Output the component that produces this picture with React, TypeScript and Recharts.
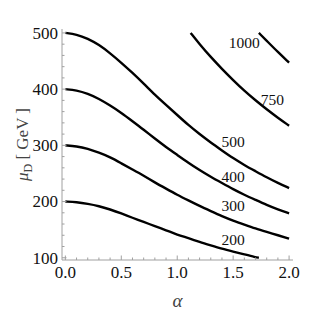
import React from "react";
import { LineChart, Line, XAxis, YAxis, ReferenceDot, Label } from "recharts";

// alpha grid shared by the full-width contours
const alphaGrid = [0, 0.1, 0.2, 0.3, 0.4, 0.5, 0.6, 0.7, 0.8, 0.9, 1.0, 1.1, 1.2, 1.3, 1.4, 1.5, 1.6, 1.7, 1.8, 1.9, 2.0];

// mu_D values (GeV)
const mu500 = [500, 497.5, 490, 479, 464, 447, 429, 410, 390, 372, 354, 336, 320, 305, 291, 277, 265, 254, 243, 233, 224];
const mu400 = [400, 398, 392, 383, 371, 358, 343, 328, 312, 297, 283, 269, 256, 244, 233, 222, 212, 203, 194, 186, 179];
const mu300 = [300, 298.5, 294, 287, 279, 268, 257, 246, 234, 223, 212, 202, 192, 183, 174, 166, 159, 152, 146, 140, 134];

// contours that are clipped by the plot range
const alpha200 = [0, 0.1, 0.2, 0.3, 0.4, 0.5, 0.6, 0.7, 0.8, 0.9, 1.0, 1.1, 1.2, 1.3, 1.4, 1.5, 1.6, 1.7, 1.73];
const mu200 = [200, 199, 196, 192, 186, 179, 171, 164, 156, 149, 141, 135, 128, 122, 116, 111, 106, 101, 100];
const alpha750 = [1.12, 1.2, 1.3, 1.4, 1.5, 1.6, 1.7, 1.8, 1.9, 2.0];
const mu750 = [500, 480, 457, 436, 416, 397, 380, 364, 349, 335];
const alpha1000 = [1.73, 1.8, 1.9, 2.0];
const mu1000 = [500, 486, 466, 447];

// contour labels
const labelText = ["1000", "750", "500", "400", "300", "200"];
const labelAlpha = [1.6, 1.85, 1.5, 1.5, 1.5, 1.5];
const labelMu = [482, 382, 306, 245, 192, 133];

// ticks
const xMajor = [0, 0.5, 1, 1.5, 2];
const xTicks = [0, 0.1, 0.2, 0.3, 0.4, 0.5, 0.6, 0.7, 0.8, 0.9, 1.0, 1.1, 1.2, 1.3, 1.4, 1.5, 1.6, 1.7, 1.8, 1.9, 2.0];
const yMajor = [100, 200, 300, 400, 500];
const yTicks = [100, 120, 140, 160, 180, 200, 220, 240, 260, 280, 300, 320, 340, 360, 380, 400, 420, 440, 460, 480, 500];

const toPoints = (xs: number[], ys: number[]) => xs.map((a, i) => ({ alpha: a, mu: ys[i] }));

const FONT = "Liberation Serif";
const FRAME = "#a0a0a0";
const MAJOR = 4.5;
const MINOR = 2.5;

const isMajor = (list: number[], v: number) => list.some((m) => Math.abs(m - v) < 1e-6);

function BottomTick(props: any) {
  const { x, y, payload } = props;
  const major = isMajor(xMajor, payload.value);
  return (
    <g>
      <line x1={x} x2={x} y1={y} y2={y - (major ? MAJOR : MINOR)} stroke={FRAME} />
      {major && (
        <text x={x} y={y + 12.5} dy="0.35em" textAnchor="middle" fill="#111" style={{ fontFamily: FONT, fontSize: 17 }}>
          {payload.value.toFixed(1)}
        </text>
      )}
    </g>
  );
}

function TopTick(props: any) {
  const { x, y, payload } = props;
  const major = isMajor(xMajor, payload.value);
  return <line x1={x} x2={x} y1={y} y2={y + (major ? MAJOR : MINOR)} stroke={FRAME} />;
}

function LeftTick(props: any) {
  const { x, y, payload } = props;
  const major = isMajor(yMajor, payload.value);
  return (
    <g>
      <line x1={x} x2={x + (major ? MAJOR : MINOR)} y1={y} y2={y} stroke={FRAME} />
      {major && (
        <text x={x - 4} y={y} dy="0.35em" textAnchor="end" fill="#111" style={{ fontFamily: FONT, fontSize: 17 }}>
          {payload.value}
        </text>
      )}
    </g>
  );
}

function RightTick(props: any) {
  const { x, y, payload } = props;
  const major = isMajor(yMajor, payload.value);
  return <line x1={x} x2={x - (major ? MAJOR : MINOR)} y1={y} y2={y} stroke={FRAME} />;
}

function YTitle(props: any) {
  const { viewBox } = props;
  const cy = viewBox.y + viewBox.height / 2;
  const cx = 22;
  return (
    <text
      x={cx}
      y={cy}
      transform={`rotate(-90 ${cx} ${cy})`}
      textAnchor="middle"
      dy="0.35em"
      fill="#444"
      style={{ fontFamily: FONT, fontSize: 17 }}
    >
      <tspan fontStyle="italic">μ</tspan>
      <tspan fontSize={12} dy="4">D</tspan>
      <tspan dy="-4"> [ GeV ]</tspan>
    </text>
  );
}

function XTitle(props: any) {
  const { viewBox } = props;
  return (
    <text
      x={viewBox.x + viewBox.width / 2}
      y={300}
      dy="0.35em"
      textAnchor="middle"
      fill="#444"
      style={{ fontFamily: FONT, fontSize: 19, fontStyle: "italic" }}
    >
      α
    </text>
  );
}

function ContourLabel(text: string) {
  return (props: any) => {
    const { viewBox } = props;
    const cx = viewBox.x + (viewBox.width || 0) / 2;
    const cy = viewBox.y + (viewBox.height || 0) / 2;
    return (
      <text x={cx} y={cy} dy="0.35em" textAnchor="middle" fill="#111" style={{ fontFamily: FONT, fontSize: 15.5 }}>
        {text}
      </text>
    );
  };
}

const series = [
  toPoints(alphaGrid, mu500),
  toPoints(alphaGrid, mu400),
  toPoints(alphaGrid, mu300),
  toPoints(alpha200, mu200),
  toPoints(alpha750, mu750),
  toPoints(alpha1000, mu1000),
];

const xDomain = [-0.03, 2.035];
const yDomain = [96, 507];

export default function App() {
  return (
    <div style={{ position: "absolute", left: 0, top: 0, background: "#fff" }}>
      <LineChart width={319} height={312} margin={{ top: 29, right: 26, bottom: 0, left: 0 }}>
        <XAxis
          xAxisId="b"
          dataKey="alpha"
          type="number"
          domain={xDomain}
          ticks={xTicks}
          interval={0}
          allowDataOverflow
          height={52}
          tickSize={0}
          tickMargin={0}
          tickLine={false}
          axisLine={{ stroke: FRAME }}
          tick={<BottomTick />}
        >
          <Label content={<XTitle />} />
        </XAxis>
        <XAxis
          xAxisId="t"
          orientation="top"
          dataKey="alpha"
          type="number"
          domain={xDomain}
          ticks={xTicks}
          interval={0}
          allowDataOverflow
          height={0}
          tickSize={0}
          tickMargin={0}
          tickLine={false}
          axisLine={{ stroke: FRAME }}
          tick={<TopTick />}
        />
        <YAxis
          yAxisId="l"
          dataKey="mu"
          type="number"
          domain={yDomain}
          ticks={yTicks}
          interval={0}
          allowDataOverflow
          width={62}
          tickSize={0}
          tickMargin={0}
          tickLine={false}
          axisLine={{ stroke: FRAME }}
          tick={<LeftTick />}
        >
          <Label content={<YTitle />} />
        </YAxis>
        <YAxis
          yAxisId="r"
          orientation="right"
          dataKey="mu"
          type="number"
          domain={yDomain}
          ticks={yTicks}
          interval={0}
          allowDataOverflow
          width={0}
          tickSize={0}
          tickMargin={0}
          tickLine={false}
          axisLine={{ stroke: FRAME }}
          tick={<RightTick />}
        />
        {series.map((d, i) => (
          <Line
            key={i}
            xAxisId="b"
            yAxisId="l"
            data={d}
            dataKey="mu"
            type="basis"
            stroke="#000"
            strokeWidth={2.4}
            dot={false}
            isAnimationActive={false}
          />
        ))}
        {labelText.map((t, i) => (
          <ReferenceDot
            key={t}
            xAxisId="b"
            yAxisId="l"
            x={labelAlpha[i]}
            y={labelMu[i]}
            r={0}
            stroke="none"
            fill="none"
            ifOverflow="visible"
            label={{ position: "center", content: ContourLabel(t) }}
          />
        ))}
      </LineChart>
    </div>
  );
}
